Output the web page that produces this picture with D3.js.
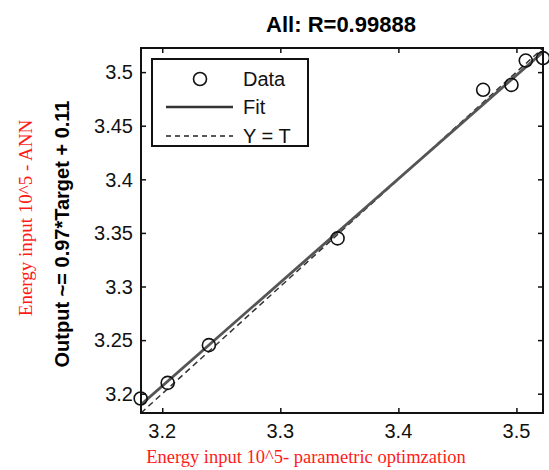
<!DOCTYPE html>
<html lang="en">
<head>
    <meta charset="utf-8">
    <script type="text/javascript" src="https://cdnjs.cloudflare.com/ajax/libs/d3/7.3.0/d3.min.js"></script>
    <style>
    body { margin: 0; background: #ffffff; }
    svg { display: block; }
    .tick-label { font-family: "Liberation Sans", Arial, sans-serif; font-size: 20px; fill: #111; }
    .red-label { font-family: "Liberation Serif", "Times New Roman", serif; font-size: 19px; fill: #ff1a1a; }
    </style>
</head>
<body>
<svg id="chart"></svg>

<script>
// values
var targets = [3.1817, 3.2046, 3.2395, 3.3485, 3.4718, 3.4958, 3.5079, 3.5225];
var outputs = [3.1955, 3.2101, 3.2453, 3.3449, 3.4835, 3.4881, 3.5108, 3.5131];
var fitCoef = [0.966, 0.116]; // slope, intercept (label rounds to 0.97 / 0.11)
var axisLimits = [3.182, 3.5225];
var xTicks = [3.2, 3.3, 3.4, 3.5];
var yTicks = [3.2, 3.25, 3.3, 3.35, 3.4, 3.45, 3.5];
var legendNames = ["Data", "Fit", "Y = T"];

var svgWidth = 549;
var svgHeight = 470;
// plot box (don't use "top" as a global, it's window.top)
var boxL = 141, boxR = 543, boxT = 48, boxB = 413;

var svg = d3.select("#chart")
    .attr("width", svgWidth)
    .attr("height", svgHeight);

var x = d3.scaleLinear().domain(axisLimits).range([boxL, boxR]);
var y = d3.scaleLinear().domain(axisLimits).range([boxB, boxT]);

svg.append("clipPath").attr("id", "plotClip")
  .append("rect")
    .attr("x", boxL).attr("y", boxT)
    .attr("width", boxR - boxL).attr("height", boxB - boxT);

var plot = svg.append("g").attr("clip-path", "url(#plotClip)");

// Y = T
plot.append("line")
    .attr("x1", x(axisLimits[0])).attr("y1", y(axisLimits[0]))
    .attr("x2", x(axisLimits[1])).attr("y2", y(axisLimits[1]))
    .attr("stroke", "#333")
    .attr("stroke-width", 1.5)
    .attr("stroke-dasharray", "6,4");

// fit line
plot.append("line")
    .attr("x1", x(axisLimits[0])).attr("y1", y(fitCoef[0] * axisLimits[0] + fitCoef[1]))
    .attr("x2", x(axisLimits[1])).attr("y2", y(fitCoef[0] * axisLimits[1] + fitCoef[1]))
    .attr("stroke", "#555")
    .attr("stroke-width", 2.8);

// data circles
svg.selectAll("circle.pt")
    .data(targets)
    .enter()
    .append("circle")
    .attr("class", "pt")
    .attr("cx", function(d) { return x(d); })
    .attr("cy", function(d, i) { return y(outputs[i]); })
    .attr("r", 6.5)
    .attr("fill", "none")
    .attr("stroke", "#111")
    .attr("stroke-width", 1.6);

// box + ticks on all sides
svg.append("rect")
    .attr("x", boxL).attr("y", boxT)
    .attr("width", boxR - boxL).attr("height", boxB - boxT)
    .attr("fill", "none")
    .attr("stroke", "#111")
    .attr("stroke-width", 2);

function tickStyle(g) {
  g.select(".domain").remove();
  g.selectAll("line").attr("stroke", "#111").attr("stroke-width", 1.5);
}

svg.append("g").attr("transform", "translate(0," + boxB + ")")
    .call(d3.axisBottom(x).tickValues(xTicks).tickSizeInner(-5).tickSizeOuter(0).tickFormat(""))
    .call(tickStyle);
svg.append("g").attr("transform", "translate(0," + boxT + ")")
    .call(d3.axisTop(x).tickValues(xTicks).tickSizeInner(-5).tickSizeOuter(0).tickFormat(""))
    .call(tickStyle);
svg.append("g").attr("transform", "translate(" + boxL + ",0)")
    .call(d3.axisLeft(y).tickValues(yTicks).tickSizeInner(-5).tickSizeOuter(0).tickFormat(""))
    .call(tickStyle);
svg.append("g").attr("transform", "translate(" + boxR + ",0)")
    .call(d3.axisRight(y).tickValues(yTicks).tickSizeInner(-5).tickSizeOuter(0).tickFormat(""))
    .call(tickStyle);

// tick labels
svg.selectAll("text.xt")
    .data(xTicks)
    .enter()
    .append("text")
    .attr("class", "tick-label xt")
    .attr("x", function(d) { return x(d); })
    .attr("y", 438)
    .attr("text-anchor", "middle")
    .text(function(d) { return d3.format(".1f")(d); });

svg.selectAll("text.yt")
    .data(yTicks)
    .enter()
    .append("text")
    .attr("class", "tick-label yt")
    .attr("x", 133)
    .attr("y", function(d) { return y(d); })
    .attr("dy", "0.36em")
    .attr("text-anchor", "end")
    .text(function(d) { return d3.format("")(d); });

// title and axis labels
svg.append("text")
    .attr("x", 341).attr("y", 32)
    .attr("text-anchor", "middle")
    .style("font-family", "'Liberation Sans', Arial, sans-serif")
    .style("font-size", "22px")
    .style("font-weight", "bold")
    .text("All: R=0.99888");

svg.append("text")
    .attr("transform", "translate(62,234) rotate(-90)")
    .attr("dy", "0.36em")
    .attr("text-anchor", "middle")
    .style("font-family", "'Liberation Sans', Arial, sans-serif")
    .style("font-size", "20px")
    .style("font-weight", "bold")
    .text("Output ~= 0.97*Target + 0.11");

svg.append("text")
    .attr("class", "red-label")
    .attr("transform", "translate(25,218) rotate(-90)")
    .attr("dy", "0.36em")
    .attr("text-anchor", "middle")
    .text("Energy input 10^5 - ANN");

svg.append("text")
    .attr("class", "red-label")
    .attr("x", 306).attr("y", 463)
    .attr("text-anchor", "middle")
    .style("font-size", "18.5px")
    .text("Energy input 10^5- parametric optimzation");

// legend
var legend = svg.append("g");
legend.append("rect")
    .attr("x", 152).attr("y", 59)
    .attr("width", 156).attr("height", 87)
    .attr("fill", "#fff")
    .attr("stroke", "#111")
    .attr("stroke-width", 2);

var legendY = [79, 107, 136];
legend.append("circle")
    .attr("cx", 200).attr("cy", legendY[0]).attr("r", 6.5)
    .attr("fill", "none").attr("stroke", "#111").attr("stroke-width", 1.6);
legend.append("line")
    .attr("x1", 166).attr("x2", 233).attr("y1", legendY[1]).attr("y2", legendY[1])
    .attr("stroke", "#333").attr("stroke-width", 2.5);
legend.append("line")
    .attr("x1", 166).attr("x2", 233).attr("y1", legendY[2]).attr("y2", legendY[2])
    .attr("stroke", "#222").attr("stroke-width", 1.5).attr("stroke-dasharray", "5,4");

legend.selectAll("text.lg")
    .data(legendNames)
    .enter()
    .append("text")
    .attr("class", "tick-label lg")
    .attr("x", 243)
    .attr("y", function(d, i) { return legendY[i]; })
    .attr("dy", "0.36em")
    .text(function(d) { return d; });
</script>
</body>
</html>
